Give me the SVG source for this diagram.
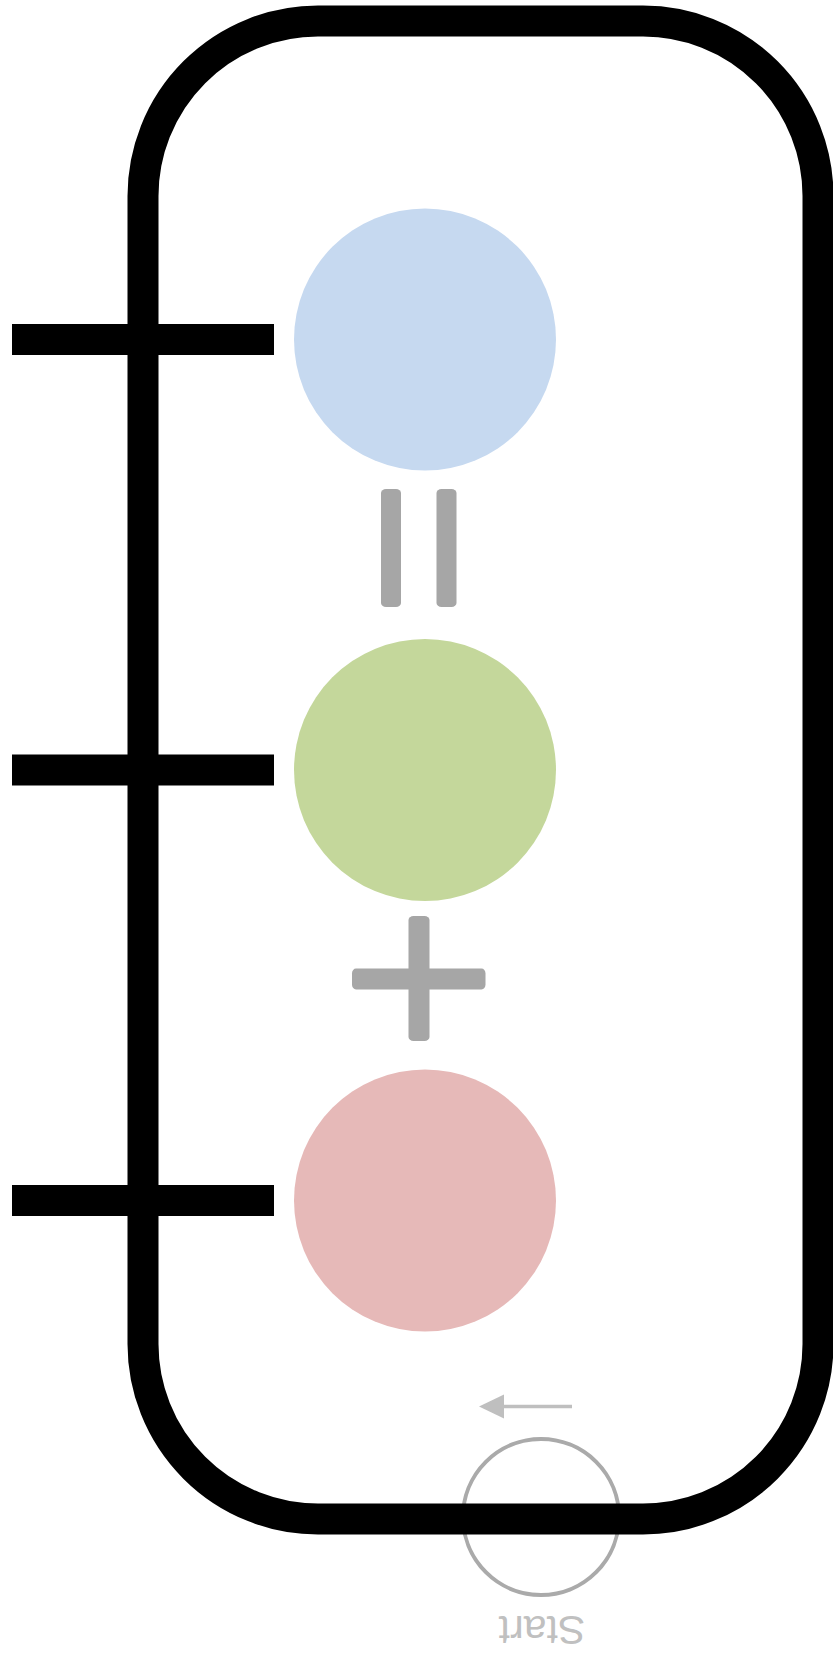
<svg xmlns="http://www.w3.org/2000/svg" width="833" height="1656" viewBox="0 0 833 1656">
<style>
.sym{fill:#a6a6a6}
.tick{fill:#000}
.lbl{font-family:"Liberation Sans",Arial,sans-serif;font-size:41px;fill:#c0c0c0}
</style>
<rect width="833" height="1656" fill="#fff"/>
<g id="start">
<circle cx="541" cy="1517" r="78" fill="none" stroke="#aaaaaa" stroke-width="4"/>
<text class="lbl" x="542" y="1616" text-anchor="middle" transform="rotate(180 542 1616)">Start</text>
</g>
<g id="frame">
<rect x="143" y="21" width="675" height="1498" rx="175" ry="175" fill="none" stroke="#000" stroke-width="31"/>
</g>
<g id="ticks">
<rect class="tick" x="12" y="324" width="262" height="31"/>
<rect class="tick" x="12" y="754.5" width="262" height="31"/>
<rect class="tick" x="12" y="1185" width="262" height="31"/>
</g>
<g id="node-blue"><circle cx="425" cy="339.5" r="131" fill="#c6d9f0"/></g>
<g id="node-green"><circle cx="425" cy="770" r="131" fill="#c4d79b"/></g>
<g id="node-red"><circle cx="425" cy="1200.5" r="131" fill="#e6b9b8"/></g>
<g id="equals">
<rect class="sym" x="381" y="489" width="20" height="118" rx="5" ry="4"/>
<rect class="sym" x="436.5" y="489" width="20" height="118" rx="5" ry="4"/>
</g>
<g id="plus">
<rect class="sym" x="408.5" y="916" width="21" height="125" rx="5" ry="4"/>
<rect class="sym" x="352" y="968.5" width="133.5" height="21" rx="4" ry="5"/>
</g>
<g id="connectors">
<line x1="572" y1="1406.5" x2="503" y2="1406.5" stroke="#bfbfbf" stroke-width="3.5"/>
<path d="M504,1394.5 L479,1406.5 L504,1418.5 Z" fill="#bfbfbf"/>
</g>
</svg>
